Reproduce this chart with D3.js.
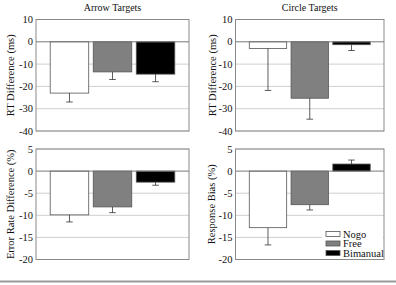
<!DOCTYPE html>
<html>
<head>
<meta charset="utf-8">
<script src="https://cdn.jsdelivr.net/npm/d3@7"></script>
<style>
  body { margin: 0; background: #fff; }
  svg text { font-family: "Liberation Serif", "DejaVu Serif", serif; fill: #111; }
</style>
</head>
<body>
<div id="chart"></div>
<script>
  var categories = ['Nogo', 'Free', 'Bimanual'];
  var barColors = ['#ffffff', '#808080', '#000000'];

  // Top row: RT difference (ms)
  var arrowRT = [-23, -13.5, -14.5];
  var arrowRTErr = [4, 3.4, 3.4];
  var circleRT = [-3, -25.3, -1.3];
  var circleRTErr = [18.8, 9.4, 2.6];

  // Bottom row: error rate difference / response bias (%)
  var arrowErrRate = [-9.9, -8.1, -2.5];
  var arrowErrRateErr = [1.6, 1.3, 0.7];
  var circleBias = [-12.8, -7.6, 1.6];
  var circleBiasErr = [3.9, 1.2, 0.9];

  var rtTicks = [10, 0, -10, -20, -30, -40];
  var pctTicks = [5, 0, -5, -10, -15, -20];

  var svg = d3.select('#chart').append('svg')
    .attr('width', 396)
    .attr('height', 285);

  function drawPanel(opts) {
    var x = d3.scaleBand().domain(categories)
      .range([opts.x0, opts.x1])
      .paddingInner(0.105)
      .paddingOuter(0.33);
    var y = d3.scaleLinear().domain([d3.min(opts.ticks), d3.max(opts.ticks)])
      .range([opts.y1, opts.y0]);
    var g = svg.append('g');

    // Gridlines.
    g.selectAll('.grid').data(opts.ticks.filter(function(t) { return t !== 0; }))
      .enter().append('line')
      .attr('x1', opts.x0).attr('x2', opts.x1)
      .attr('y1', function(d) { return y(d); })
      .attr('y2', function(d) { return y(d); })
      .attr('stroke', '#cfcfcf')
      .attr('stroke-width', 1);

    // Tick labels.
    g.selectAll('.tick').data(opts.ticks)
      .enter().append('text')
      .attr('x', opts.x0 - 3)
      .attr('y', function(d) { return y(d); })
      .attr('dy', '0.35em')
      .attr('text-anchor', 'end')
      .style('font-size', '10.5px')
      .text(function(d) { return d; });

    // Bars.
    g.selectAll('.bar').data(opts.values)
      .enter().append('rect')
      .attr('x', function(d, i) { return x(categories[i]); })
      .attr('width', x.bandwidth())
      .attr('y', function(d) { return y(Math.max(0, d)); })
      .attr('height', function(d) { return Math.abs(y(d) - y(0)); })
      .attr('fill', function(d, i) { return barColors[i]; })
      .attr('stroke', '#555')
      .attr('stroke-width', 0.8);

    // Error bars, drawn away from zero.
    var cap = 3.3;
    opts.values.forEach(function(v, i) {
      var cx = x(categories[i]) + x.bandwidth() / 2;
      var end = v + (v < 0 ? -opts.errors[i] : opts.errors[i]);
      g.append('line')
        .attr('x1', cx).attr('x2', cx)
        .attr('y1', y(v)).attr('y2', y(end))
        .attr('stroke', '#333').attr('stroke-width', 0.8);
      g.append('line')
        .attr('x1', cx - cap).attr('x2', cx + cap)
        .attr('y1', y(end)).attr('y2', y(end))
        .attr('stroke', '#333').attr('stroke-width', 0.8);
    });

    // Zero line.
    g.append('line')
      .attr('x1', opts.x0).attr('x2', opts.x1)
      .attr('y1', y(0)).attr('y2', y(0))
      .attr('stroke', '#777').attr('stroke-width', 1);

    // Frame.
    g.append('rect')
      .attr('x', opts.x0).attr('y', opts.y0)
      .attr('width', opts.x1 - opts.x0)
      .attr('height', opts.y1 - opts.y0)
      .attr('fill', 'none')
      .attr('stroke', '#8a8a8a')
      .attr('stroke-width', 1);

    // Y-axis label.
    g.append('text')
      .attr('transform', 'translate(' + opts.labelX + ',' + ((opts.y0 + opts.y1) / 2) + ') rotate(-90)')
      .attr('text-anchor', 'middle')
      .style('font-size', '10.5px')
      .text(opts.label);

    if (opts.title) {
      g.append('text')
        .attr('x', (opts.x0 + opts.x1) / 2)
        .attr('y', 11)
        .attr('text-anchor', 'middle')
        .style('font-size', '10px')
        .text(opts.title);
    }
    return { g: g, x: x, y: y };
  }

  drawPanel({ x0: 36, x1: 189, y0: 19.5, y1: 131, ticks: rtTicks,
    values: arrowRT, errors: arrowRTErr, label: 'RT Difference (ms)', labelX: 14, title: 'Arrow Targets' });
  drawPanel({ x0: 235.5, x1: 384, y0: 19.5, y1: 131, ticks: rtTicks,
    values: circleRT, errors: circleRTErr, label: 'RT Difference (ms)', labelX: 216, title: 'Circle Targets' });
  drawPanel({ x0: 36, x1: 189, y0: 149, y1: 259.5, ticks: pctTicks,
    values: arrowErrRate, errors: arrowErrRateErr, label: 'Error Rate Difference (%)', labelX: 14 });
  var p4 = drawPanel({ x0: 235.5, x1: 384, y0: 149, y1: 259.5, ticks: pctTicks,
    values: circleBias, errors: circleBiasErr, label: 'Response Bias (%)', labelX: 215 });

  // Legend inside the bottom-right panel.
  var legend = p4.g.append('g').attr('transform', 'translate(322,228)');
  legend.append('rect')
    .attr('x', 0).attr('y', 0)
    .attr('width', 61).attr('height', 30.5)
    .attr('fill', '#fff');
  categories.forEach(function(c, i) {
    var row = legend.append('g').attr('transform', 'translate(0,' + (i * 9.5) + ')');
    row.append('rect')
      .attr('x', 4).attr('y', 3.5)
      .attr('width', 14).attr('height', 5)
      .attr('fill', barColors[i])
      .attr('stroke', '#555').attr('stroke-width', 0.8);
    row.append('text')
      .attr('x', 21).attr('y', 9.5)
      .style('font-size', '10.5px')
      .text(c);
  });

  // Rule along the bottom of the figure.
  svg.append('line')
    .attr('x1', 0).attr('x2', 396)
    .attr('y1', 281.5).attr('y2', 281.5)
    .attr('stroke', '#999').attr('stroke-width', 2);
</script>
</body>
</html>
